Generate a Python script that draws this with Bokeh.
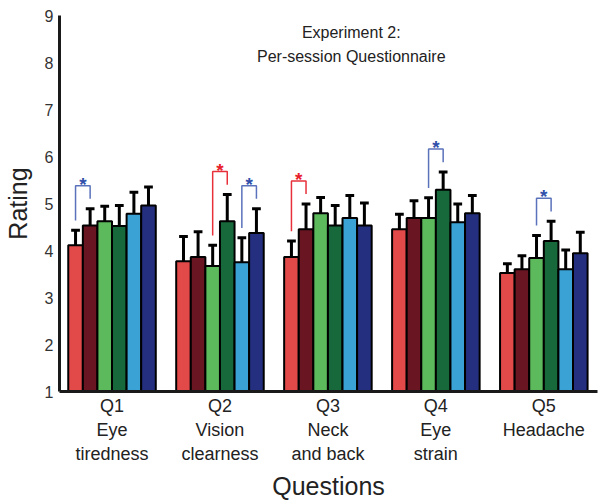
from bokeh.plotting import figure
from bokeh.models import FixedTicker, Label, ColumnDataSource
from bokeh.embed import file_html
from bokeh.resources import INLINE
from bokeh.core.properties import value

# ---------------- data ----------------
question_labels = ["Q1\nEye\ntiredness", "Q2\nVision\nclearness", "Q3\nNeck\nand back",
                   "Q4\nEye\nstrain", "Q5\nHeadache"]
rating_ticks = [1, 2, 3, 4, 5, 6, 7, 8, 9]

cond1_mean = [4.11, 3.77, 3.86, 4.45, 3.52]
cond1_err = [0.32, 0.53, 0.34, 0.32, 0.20]
cond2_mean = [4.53, 3.86, 4.45, 4.69, 3.60]
cond2_err = [0.36, 0.54, 0.54, 0.37, 0.29]
cond3_mean = [4.62, 3.67, 4.79, 4.69, 3.84]
cond3_err = [0.32, 0.44, 0.34, 0.43, 0.48]
cond4_mean = [4.52, 4.62, 4.53, 5.29, 4.20]
cond4_err = [0.44, 0.57, 0.43, 0.38, 0.42]
cond5_mean = [4.78, 3.75, 4.69, 4.60, 3.60]
cond5_err = [0.46, 0.52, 0.48, 0.39, 0.41]
cond6_mean = [4.96, 4.37, 4.53, 4.79, 3.94]
cond6_err = [0.39, 0.52, 0.48, 0.38, 0.45]

# significance: (question index, bar a, bar b, colour key)
sig_question = [0, 1, 1, 2, 3, 4]
sig_bar_a = [0, 2, 4, 0, 2, 2]
sig_bar_b = [1, 3, 5, 1, 3, 3]
sig_kind = ["blue", "red", "blue", "red", "blue", "blue"]

title_lines = ["Experiment 2:", "Per-session Questionnaire"]

# ---------------- styling ----------------
means = [cond1_mean, cond2_mean, cond3_mean, cond4_mean, cond5_mean, cond6_mean]
errs = [cond1_err, cond2_err, cond3_err, cond4_err, cond5_err, cond6_err]
colors = ["#e24a4a", "#6a1622", "#5cba5c", "#17683a", "#3aa2d5", "#24307f"]
sig_line_colors = {"blue": "#5a72bb", "red": "#e8303a"}
sig_star_colors = {"blue": "#3050aa", "red": "#e8202c"}
FONT = "Liberation Sans"

group_step = 7.4
offsets = [-2.5, -1.5, -0.5, 0.5, 1.5, 2.5]
centers = [i * group_step for i in range(len(question_labels))]

p = figure(width=604, height=504, output_backend="svg", toolbar_location=None,
           x_range=(-3.6, centers[-1] + 3.68), y_range=(1, 9),
           min_border_left=56, min_border_right=7, min_border_top=15, min_border_bottom=113)
p.outline_line_color = None
p.grid.grid_line_color = None
p.background_fill_color = "white"

for k in range(6):
    xs = [c + offsets[k] for c in centers]
    tops = means[k]
    etops = [m + e for m, e in zip(means[k], errs[k])]
    src = ColumnDataSource(dict(x=xs, top=tops, etop=etops,
                                cl=[x - 0.3 for x in xs], cr=[x + 0.3 for x in xs]))
    p.segment(x0="x", y0="top", x1="x", y1="etop", source=src, line_color="black", line_width=3)
    p.segment(x0="cl", y0="etop", x1="cr", y1="etop", source=src, line_color="black", line_width=3)
    p.vbar(x="x", top="top", bottom=1, width=1.0, source=src,
           fill_color=colors[k], line_color="black", line_width=2)

# significance brackets
for q, a, b, kind in zip(sig_question, sig_bar_a, sig_bar_b, sig_kind):
    xa = centers[q] + offsets[a]
    xb = centers[q] + offsets[b]
    ya = means[a][q] + errs[a][q] + 0.21
    yb = means[b][q] + errs[b][q] + 0.21
    yt = max(ya, yb) + 0.28
    p.line(x=[xa, xa, xb, xb], y=[ya, yt, yt, yb], line_color=sig_line_colors[kind], line_width=1.5)
    p.text(x=[(xa + xb) / 2], y=[yt + 0.03], text=["*"], text_align="center",
           text_baseline="alphabetic", text_font=value(FONT), text_font_size="19px",
           text_font_style="bold", text_color=sig_star_colors[kind])

# axes
p.yaxis.ticker = FixedTicker(ticks=rating_ticks)
p.yaxis.major_tick_line_color = None
p.yaxis.minor_tick_line_color = None
p.yaxis.major_tick_out = 0
p.yaxis.axis_line_width = 3
p.yaxis.axis_line_color = "#1a1a1a"
p.yaxis.major_label_text_font = FONT
p.yaxis.major_label_text_font_size = "16px"
p.yaxis.major_label_text_color = "#333333"
p.yaxis.major_label_standoff = 6
p.yaxis.axis_label = "Rating"
p.yaxis.axis_label_text_font = FONT
p.yaxis.axis_label_text_font_size = "25px"
p.yaxis.axis_label_text_font_style = "normal"
p.yaxis.axis_label_text_color = "#222222"
p.yaxis.axis_label_standoff = 10

p.xaxis.ticker = FixedTicker(ticks=centers)
p.xaxis.major_label_overrides = {c: lbl for c, lbl in zip(centers, question_labels)}
p.xaxis.major_tick_line_color = None
p.xaxis.minor_tick_line_color = None
p.xaxis.major_tick_out = 0
p.xaxis.axis_line_width = 3
p.xaxis.axis_line_color = "#1a1a1a"
p.xaxis.major_label_text_font = FONT
p.xaxis.major_label_text_font_size = "18px"
p.xaxis.major_label_text_color = "#222222"
p.xaxis.major_label_standoff = 4
p.xaxis.axis_label = "Questions"
p.xaxis.axis_label_text_font = FONT
p.xaxis.axis_label_text_font_size = "25px"
p.xaxis.axis_label_text_font_style = "normal"
p.xaxis.axis_label_text_color = "#222222"
p.xaxis.axis_label_standoff = 5

title_x = 16.4
title_y = [8.64, 8.13]
for txt, ty in zip(title_lines, title_y):
    p.add_layout(Label(x=title_x, y=ty, text=txt, text_align="center",
                       text_baseline="middle", text_font=FONT, text_font_size="16px",
                       text_color="#222222"))

open("out.html", "w").write(file_html(p, INLINE))
